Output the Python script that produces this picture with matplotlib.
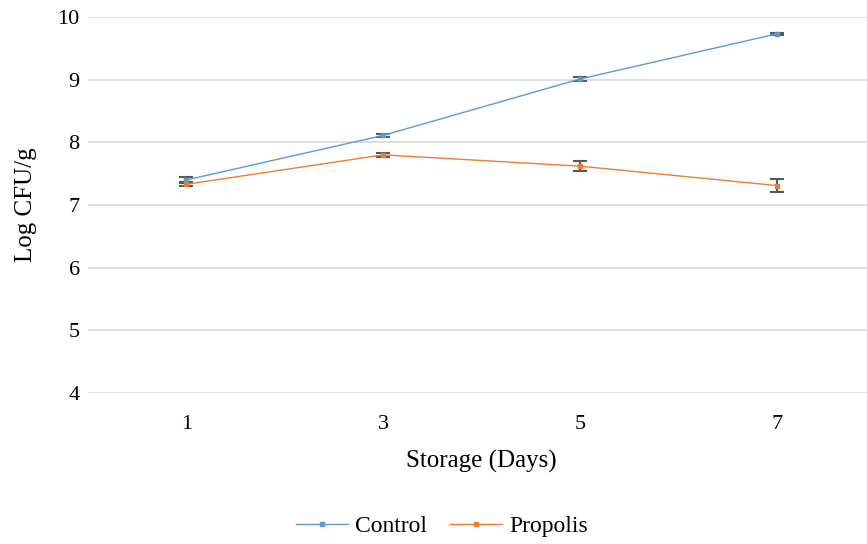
import numpy as np
import matplotlib.pyplot as plt
from matplotlib.lines import Line2D

plt.rcParams['font.family'] = ['Liberation Serif', 'DejaVu Serif']

days = ['1', '3', '5', '7']
control = [7.40, 8.11, 9.01, 9.73]
control_err = [0.05, 0.02, 0.03, 0.02]
propolis = [7.33, 7.80, 7.62, 7.31]
propolis_err = [0.03, 0.03, 0.08, 0.10]

blue = '#5B9BD5'
orange = '#ED7D31'

fig = plt.figure(figsize=(8.67, 5.44), dpi=100)
ax = fig.add_axes([88 / 867, 1 - 393 / 544, (875 - 88) / 867, (393 - 17) / 544])

x = np.arange(len(days))
ax.errorbar(x, control, yerr=control_err, color=blue, lw=1, marker='s',
            ms=3.5, ecolor='#595959', elinewidth=1.5, capsize=5, capthick=1.5,
            zorder=3)
ax.errorbar(x, propolis, yerr=propolis_err, color=orange, lw=1, marker='s',
            ms=3.5, ecolor='#595959', elinewidth=1.5, capsize=5, capthick=1.5,
            zorder=3)

ax.set_xlim(-0.5, 3.5)
ax.set_ylim(4, 10)
ax.set_yticks(range(4, 11))
ax.set_xticks(x)
ax.set_xticklabels(days)
ax.grid(axis='y', color='#D9D9D9', lw=1.2)
ax.set_axisbelow(True)
for s in ax.spines.values():
    s.set_visible(False)
ax.tick_params(axis='y', length=0, labelsize=16, pad=6)
ax.tick_params(axis='x', length=0, labelsize=16, pad=16)
ax.set_ylabel('Log CFU/g', fontsize=18, labelpad=15)
ax.set_xlabel('Storage (Days)', fontsize=18, labelpad=11)

handles = [Line2D([], [], color=blue, lw=1, marker='s', ms=3),
           Line2D([], [], color=orange, lw=1, marker='s', ms=3)]
ax.legend(handles, ['Control', 'Propolis'], loc='center',
          bbox_to_anchor=(442 / 867, 18 / 544), ncol=2,
          bbox_transform=fig.transFigure, frameon=False, fontsize=17,
          handlelength=2.2, columnspacing=1.0, handletextpad=0.3)

fig.savefig('out.png', dpi=100)
